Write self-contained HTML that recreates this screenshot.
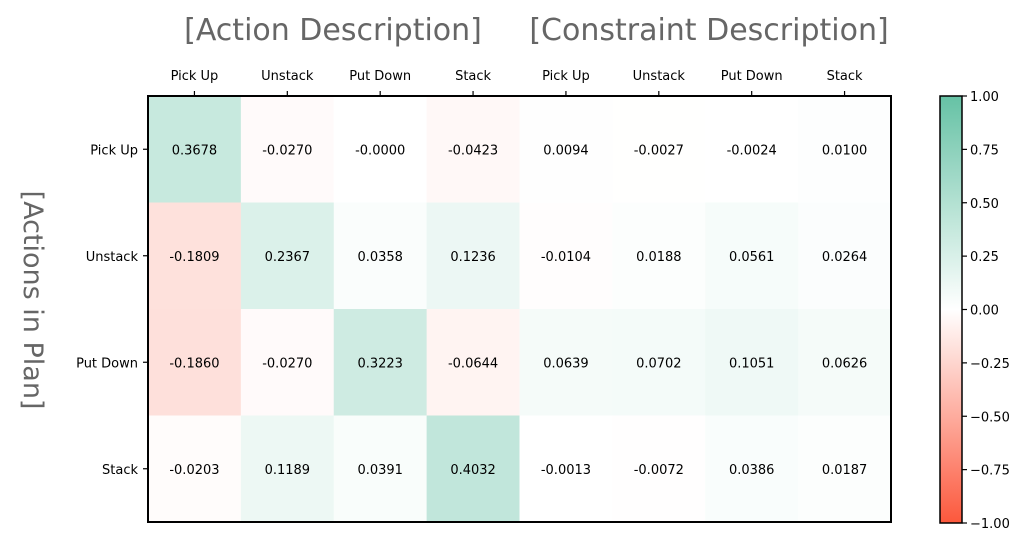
<!DOCTYPE html>
<html><head><meta charset="utf-8"><style>
body{margin:0;background:#fff;font-family:"DejaVu Sans","Liberation Sans",sans-serif;}
svg text{font-family:"DejaVu Sans","Liberation Sans",sans-serif;}
</style></head><body>
<svg id="chart" width="1024" height="534"></svg>
<script>
const colLabels=["Pick Up","Unstack","Put Down","Stack","Pick Up","Unstack","Put Down","Stack"];
const rowLabels=["Pick Up","Unstack","Put Down","Stack"];
const row0=[0.3678,-0.0270,-0.0000,-0.0423,0.0094,-0.0027,-0.0024,0.0100];
const row1=[-0.1809,0.2367,0.0358,0.1236,-0.0104,0.0188,0.0561,0.0264];
const row2=[-0.1860,-0.0270,0.3223,-0.0644,0.0639,0.0702,0.1051,0.0626];
const row3=[-0.0203,0.1189,0.0391,0.4032,-0.0013,-0.0072,0.0386,0.0187];
const cbTicks=[1.00,0.75,0.50,0.25,0.00,-0.25,-0.50,-0.75,-1.00];
const rows=[row0,row1,row2,row3];
const NS="http://www.w3.org/2000/svg";
const svg=document.getElementById('chart');
const X0=148,X1=891,Y0=96,Y1=522;
const cw=(X1-X0)/colLabels.length, rh=(Y1-Y0)/rowLabels.length;
function color(v){
  let r,g,b;
  if(v>=0){r=255-v*(255-102);g=255-v*(255-194);b=255-v*(255-165);}
  else{const a=-v;r=255-a*3;g=255-a*(255-88);b=255-a*(255-60);}
  return `rgb(${Math.round(r)},${Math.round(g)},${Math.round(b)})`;
}
function el(t,attrs,txt){const e=document.createElementNS(NS,t);for(const k in attrs)e.setAttribute(k,attrs[k]);if(txt!==undefined)e.textContent=txt;svg.appendChild(e);return e;}
function fmt(v){return (v<0||Object.is(v,-0)?"-":"")+Math.abs(v).toFixed(4);}
rows.forEach((row,i)=>{row.forEach((v,j)=>{
  const c=el('rect',{x:X0+j*cw,y:Y0+i*rh,width:cw+0.5,height:rh+0.5,fill:color(v)});
  
  
  const t=el('text',{x:X0+(j+0.5)*cw,y:Y0+(i+0.5)*rh+5,'text-anchor':'middle','font-size':13,fill:'#000'},fmt(v));
  
  
});});
const fr=el('rect',{x:X0,y:Y0,width:X1-X0,height:Y1-Y0,fill:'none',stroke:'#000','stroke-width':2});


colLabels.forEach((l,j)=>{
  const x=X0+(j+0.5)*cw;
  el('line',{x1:x,x2:x,y1:Y0-5,y2:Y0,stroke:'#000','stroke-width':1.2});
  const t=el('text',{x:x,y:80,'text-anchor':'middle','font-size':13},l);
  
  
});
rowLabels.forEach((l,i)=>{
  const y=Y0+(i+0.5)*rh;
  el('line',{x1:X0-5,x2:X0,y1:y,y2:y,stroke:'#000','stroke-width':1.2});
  const t=el('text',{x:X0-10,y:y+5,'text-anchor':'end','font-size':13},l);
  
  
});
let t=el('text',{x:333,y:40,'text-anchor':'middle','font-size':30,fill:'#666'},'[Action Description]');


t=el('text',{x:709,y:40,'text-anchor':'middle','font-size':30,fill:'#666'},'[Constraint Description]');


t=el('text',{x:0,y:0,'text-anchor':'middle','font-size':27,fill:'#666',transform:'translate(24,300) rotate(90)'},'[Actions in Plan]');


const CX=940,CW=22,CY0=96,CY1=523;
const defs=el('defs',{});
const lg=document.createElementNS(NS,'linearGradient');lg.setAttribute('id','cb');lg.setAttribute('x1','0');lg.setAttribute('x2','0');lg.setAttribute('y1','0');lg.setAttribute('y2','1');
for(let k=0;k<=20;k++){const v=1-k/10;const s=document.createElementNS(NS,'stop');s.setAttribute('offset',k/20);s.setAttribute('stop-color',color(v));lg.appendChild(s);}
defs.appendChild(lg);
const cb=el('rect',{x:CX,y:CY0,width:CW,height:CY1-CY0,fill:'url(#cb)',stroke:'#000','stroke-width':1.5});


cbTicks.forEach(v=>{
  const y=CY0+(1-v)/2*(CY1-CY0);
  el('line',{x1:CX+CW,x2:CX+CW+5,y1:y,y2:y,stroke:'#000','stroke-width':1.2});
  const tt=el('text',{x:CX+CW+8,y:y+5,'font-size':13},(v<0?"\u2212":"")+Math.abs(v).toFixed(2));
  
  
});
</script>
</body></html>
